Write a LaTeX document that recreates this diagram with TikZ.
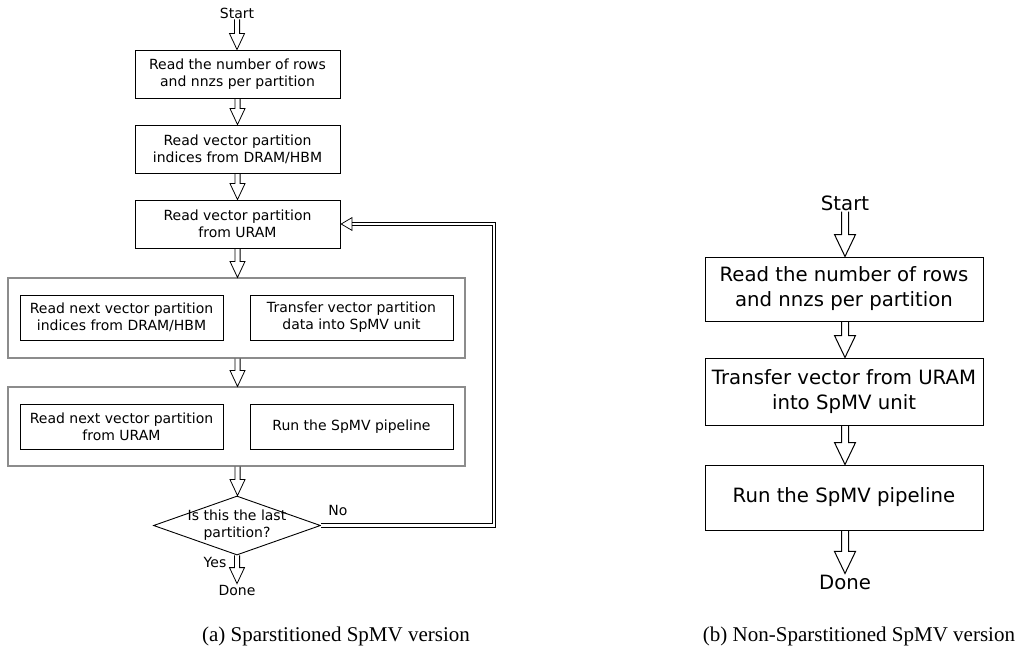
\documentclass[tikz,border=0pt]{standalone}
\usepackage{fontspec}
\setmainfont{DejaVu Sans}
\newfontfamily\capfont{Liberation Serif}
\usetikzlibrary{arrows.meta,positioning,shapes.geometric,calc}

\tikzset{
  txta/.style={font=\fontsize{14}{17}\selectfont, align=center, inner sep=1pt},
  txtb/.style={font=\fontsize{19.7}{25}\selectfont, align=center, inner sep=1pt},
  stepa/.style={txta, draw, line width=0.9pt, minimum width=205pt, minimum height=48pt, inner sep=0pt},
  substep/.style={txta, draw, line width=0.9pt, minimum width=203pt, minimum height=45pt, inner sep=0pt},
  stepb/.style={txtb, draw, line width=1pt, minimum width=278pt, inner sep=0pt},
  groupbox/.style={draw=black!45, line width=1.1pt, minimum width=457pt, inner sep=0pt},
  decision/.style={diamond, draw, line width=0.9pt, minimum width=167pt, minimum height=59pt, inner sep=0pt},
  % hollow block arrows, pointing down
  flowa/.style={draw, line width=0.8pt, to path={let \p1=(\tikztostart), \p2=(\tikztotarget) in
      (\x1-2.6pt,\y1) -- (\x1-2.6pt,\y2+16pt) -- (\x1-7.5pt,\y2+16pt) -- (\x1,\y2)
      -- (\x1+7.5pt,\y2+16pt) -- (\x1+2.6pt,\y2+16pt) -- (\x1+2.6pt,\y1)}},
  flowb/.style={draw, line width=1pt, to path={let \p1=(\tikztostart), \p2=(\tikztotarget) in
      (\x1-3.5pt,\y1) -- (\x1-3.5pt,\y2+22pt) -- (\x1-10.5pt,\y2+22pt) -- (\x1,\y2)
      -- (\x1+10.5pt,\y2+22pt) -- (\x1+3.5pt,\y2+22pt) -- (\x1+3.5pt,\y1)}},
  loopflow/.style={double, double distance=2.6pt, line width=0.75pt, -{Triangle[open, length=12pt, width=14pt]}},
  caption/.style={font=\capfont\fontsize{21}{24}\selectfont},
}

\begin{document}
\begin{tikzpicture}[x=1pt,y=-1pt]
\useasboundingbox (0,0) rectangle (1025,654);

% (a) Sparstitioned version
\node[txta] (startA) at (237,13) {Start};
\node[stepa] (rowsA) at (237.5,74) {Read the number of rows\\and nnzs per partition};
\node[stepa] (idxA) at (237.5,149) {Read vector partition\\indices from DRAM/HBM};
\node[stepa] (vecA) at (237.5,224) {Read vector partition\\from URAM};

% first parallel stage
\node[groupbox, minimum height=80pt] (grpA) at (236.5,318) {};
\node[substep] (nextidx) at (121.5,317.5) {Read next vector partition\\indices from DRAM/HBM};
\node[substep] (xfer) at (351.5,317.5) {Transfer vector partition\\data into SpMV unit};

% second parallel stage
\node[groupbox, minimum height=79pt] (grpB) at (236.5,426.5) {};
\node[substep] (nextvec) at (121.5,426.5) {Read next vector partition\\from URAM};
\node[substep] (runA) at (351.5,426.5) {Run the SpMV pipeline};

\node[decision, label={[txta]center:Is this the last\\partition?}] (dec) at (237,525.5) {};
\node[txta] (doneA) at (237,590) {Done};

\draw[flowa] (startA.south) to (rowsA.north);
\draw[flowa] (rowsA.south) to (idxA.north);
\draw[flowa] (idxA.south) to (vecA.north);
\draw[flowa] (vecA.south) to (vecA.south |- grpA.north);
\draw[flowa] (grpA.south -| vecA.south) to (vecA.south |- grpB.north);
\draw[flowa] (grpB.south -| vecA.south) to (dec.north);
\draw[flowa] (dec.south) to (doneA.north);
\draw[loopflow] (dec.east) -- ++(173,0) |- (vecA.east);

\node[txta] (yes) at (215,562) {Yes};
\node[txta] (no) at (338,510) {No};

% (b) Non-Sparstitioned version
\node[txtb] (startB) at (845,203) {Start};
\node[stepb, minimum height=64pt] (rowsB) at (844,289) {Read the number of rows\\and nnzs per partition};
\node[stepb, minimum height=67pt] (xferB) at (844,391.5) {Transfer vector from URAM\\into SpMV unit};
\node[stepb, minimum height=65pt] (runB) at (844,497.5) {Run the SpMV pipeline};
\node[txtb] (doneB) at (845,582) {Done};

\draw[flowb] (startB.south) to (startB.south |- rowsB.north);
\draw[flowb] (startB.south |- rowsB.south) to (startB.south |- xferB.north);
\draw[flowb] (startB.south |- xferB.south) to (startB.south |- runB.north);
\draw[flowb] (startB.south |- runB.south) to (doneB.north);

% captions
\node[caption] (capA) at (336,636) {(a) Sparstitioned SpMV version};
\node[caption] (capB) at (859,636) {(b) Non-Sparstitioned SpMV version};
\end{tikzpicture}
\end{document}
